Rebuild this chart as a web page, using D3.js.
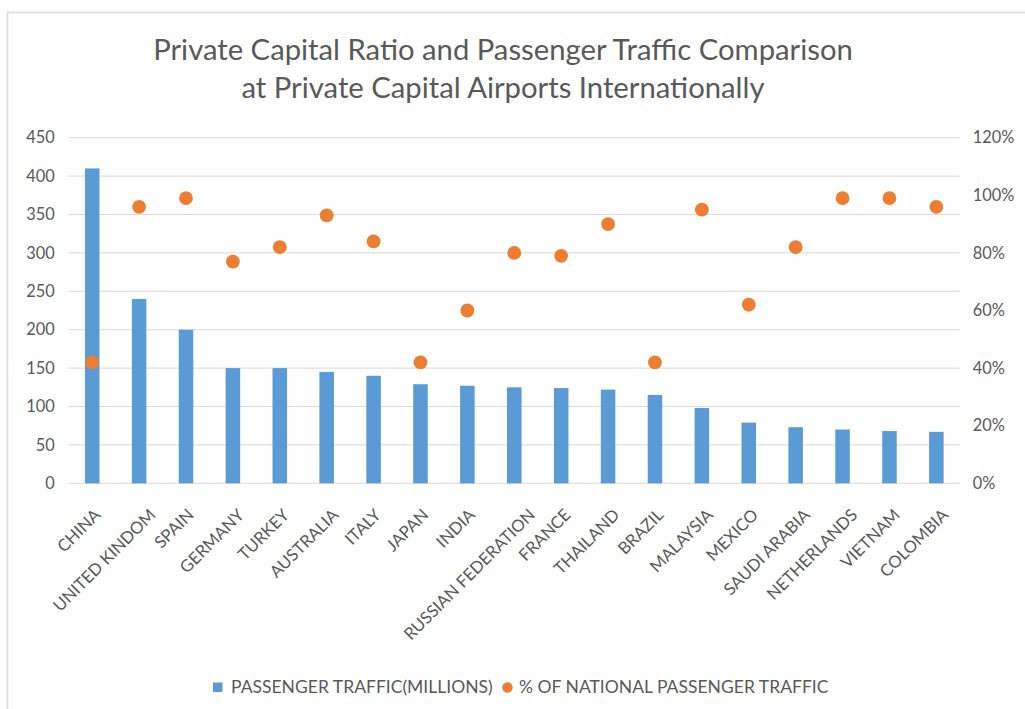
<!DOCTYPE html>
<html>
<head>
<meta charset="utf-8">
<script src="https://cdn.jsdelivr.net/npm/d3@7"></script>
<style>
  html, body { margin: 0; padding: 0; background: #fff; }
  svg { display: block; }
  text { font-family: "Lato", "Open Sans", sans-serif; fill: #595959; }
</style>
</head>
<body>
<svg id="chart" width="1025" height="709"></svg>
<script>
// ---- data ----
const categories = ["CHINA", "UNITED KINDOM", "SPAIN", "GERMANY", "TURKEY", "AUSTRALIA", "ITALY", "JAPAN", "INDIA", "RUSSIAN FEDERATION", "FRANCE", "THAILAND", "BRAZIL", "MALAYSIA", "MEXICO", "SAUDI ARABIA", "NETHERLANDS", "VIETNAM", "COLOMBIA"];
const passengerTraffic = [410, 240, 200, 150, 150, 145, 140, 129, 127, 125, 124, 122, 115, 98, 79, 73, 70, 68, 67];
const nationalShare = [0.42, 0.96, 0.99, 0.77, 0.82, 0.93, 0.84, 0.42, 0.60, 0.80, 0.79, 0.90, 0.42, 0.95, 0.62, 0.82, 0.99, 0.99, 0.96];
const leftTicks = [0, 50, 100, 150, 200, 250, 300, 350, 400, 450];
const rightTicks = [0, 0.2, 0.4, 0.6, 0.8, 1.0, 1.2];
const titleLines = ["Private Capital Ratio and Passenger Traffic Comparison", "at Private Capital Airports Internationally"];
const legendLabels = ["PASSENGER TRAFFIC(MILLIONS)", "% OF NATIONAL PASSENGER TRAFFIC"];

const barColor = "#5B9BD5", dotColor = "#ED7D31", gridColor = "#D9D9D9";

const svg = d3.select("#chart");

// frame
svg.append("rect").attr("x", 7.5).attr("y", 12.5).attr("width", 1100).attr("height", 800)
  .attr("fill", "none").attr("stroke", "#D9D9D9").attr("stroke-width", 1.5);

const x0 = 68.75, x1 = 959.8, yTop = 137.7, yBot = 483.3;

const x = d3.scaleBand().domain(categories).range([x0, x1]).paddingInner(0.69).paddingOuter(0.345);
const yL = d3.scaleLinear().domain([0, 450]).range([yBot, yTop]);
const yR = d3.scaleLinear().domain([0, 1.2]).range([yBot, yTop]);

// helper to fit font size to a target width
function fitSize(str, target, base) {
  const t = svg.append("text").attr("font-size", base).text(str);
  const w = t.node().getComputedTextLength();
  t.remove();
  return base * target / w;
}

// gridlines
svg.append("g").selectAll("line").data(leftTicks).join("line")
  .attr("x1", x0).attr("x2", x1)
  .attr("y1", d => yL(d)).attr("y2", d => yL(d))
  .attr("stroke", gridColor).attr("stroke-width", 1);

// left axis
const tickSize = fitSize("450", 28.5, 16);
const leftAxis = d3.axisLeft(yL).tickValues(leftTicks).tickSize(0).tickPadding(14);
const gL = svg.append("g").attr("transform", `translate(${x0},0)`).call(leftAxis);
gL.select(".domain").remove();
gL.selectAll("text").attr("font-size", tickSize).attr("font-family", "Lato").attr("fill", "#595959");

// right axis
const rightAxis = d3.axisRight(yR).tickValues(rightTicks).tickSize(0).tickPadding(13)
  .tickFormat(d3.format(".0%"));
const gR = svg.append("g").attr("transform", `translate(${x1},0)`).call(rightAxis);
gR.select(".domain").remove();
gR.selectAll("text").attr("font-size", tickSize).attr("font-family", "Lato").attr("fill", "#595959");

// bars
svg.append("g").selectAll("rect").data(categories).join("rect")
  .attr("x", (d) => x(d))
  .attr("width", x.bandwidth())
  .attr("y", (d, i) => yL(passengerTraffic[i]))
  .attr("height", (d, i) => yBot - yL(passengerTraffic[i]))
  .attr("fill", barColor);

// dots
svg.append("g").selectAll("circle").data(categories).join("circle")
  .attr("cx", d => x(d) + x.bandwidth() / 2)
  .attr("cy", (d, i) => yR(nationalShare[i]))
  .attr("r", 6.9)
  .attr("fill", dotColor);

// category labels
const catSize = fitSize("RUSSIAN FEDERATION", 177, 14);
const catG = svg.append("g");
categories.forEach(c => {
  const t = catG.append("text").attr("font-size", catSize).attr("text-anchor", "end").text(c);
  const len = t.node().getComputedTextLength();
  const cx = x(c) + x.bandwidth() / 2 + 4 + len * 0.1;
  t.attr("transform", `translate(${cx},${516}) rotate(-45)`);
});

// title
const titleSize = fitSize(titleLines[0], 700, 24);
svg.append("text").attr("x", 503).attr("y", 60).attr("text-anchor", "middle")
  .attr("font-size", titleSize).text(titleLines[0]);
svg.append("text").attr("x", 503).attr("y", 98).attr("text-anchor", "middle")
  .attr("font-size", titleSize).text(titleLines[1]);

// legend
const legSize = fitSize(legendLabels[0], 262, 14);
const lg = svg.append("g");
lg.append("rect").attr("x", 213).attr("y", 682.5).attr("width", 9.5).attr("height", 9.5).attr("fill", barColor);
lg.append("text").attr("x", 231).attr("y", 693).attr("font-size", legSize).text(legendLabels[0]);
lg.append("circle").attr("cx", 507.5).attr("cy", 687.5).attr("r", 5.2).attr("fill", dotColor);
lg.append("text").attr("x", 519).attr("y", 693).attr("font-size", legSize).text(legendLabels[1]);
</script>
</body>
</html>
